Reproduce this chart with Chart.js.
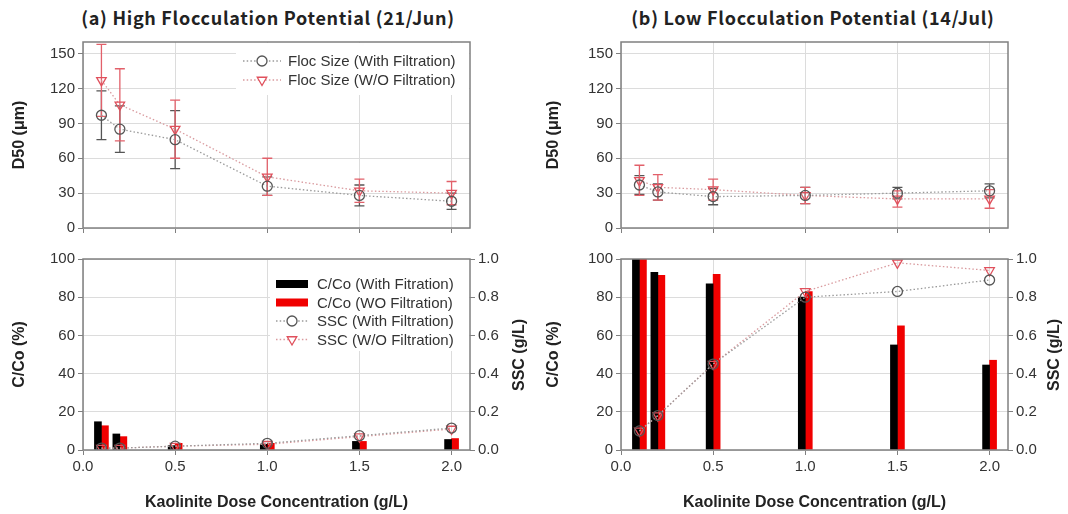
<!DOCTYPE html>
<html>
<head>
<meta charset="utf-8">
<script src="https://cdn.jsdelivr.net/npm/chart.js@4.4.1/dist/chart.umd.min.js"></script>
<style>
  body { margin: 0; background: #fff; width: 1068px; height: 514px; position: relative; overflow: hidden; }
  .panel { position: absolute; }
  .ttl { position: absolute; top: 4px; font: bold 18px "Noto Sans CJK KR", "Noto Sans", sans-serif; letter-spacing: 0.7px; color: #222; text-align: center; white-space: nowrap; }
  .rtitle { position: absolute; width: 120px; height: 20px; line-height: 20px; text-align: center; font: bold 16px "Liberation Sans", Arial, sans-serif; color: #222; transform: rotate(-90deg); white-space: nowrap; }
</style>
</head>
<body>
<div class="ttl" style="left:68px;width:400px">(a) High Flocculation Potential (21/Jun)</div>
<div class="ttl" style="left:613px;width:400px">(b) Low Flocculation Potential (14/Jul)</div>
<div class="panel" style="left:0;top:0"><canvas id="aTop" width="534" height="240"></canvas></div>
<div class="panel" style="left:0;top:240px"><canvas id="aBot" width="534" height="274"></canvas></div>
<div class="panel" style="left:534px;top:0"><canvas id="bTop" width="534" height="240"></canvas></div>
<div class="panel" style="left:534px;top:240px"><canvas id="bBot" width="534" height="274"></canvas></div>
<div class="rtitle" style="left:460px;top:345px">SSC (g/L)</div>
<div class="rtitle" style="left:995px;top:345px">SSC (g/L)</div>
<script>
// --- data ---
const dose = [0.1, 0.2, 0.5, 1.0, 1.5, 2.0];
const xTicks = [0, 0.5, 1.0, 1.5, 2.0];
const d50Ticks = [0, 30, 60, 90, 120, 150];
const ccTicks = [0, 20, 40, 60, 80, 100];
const sscTicks = [0, 0.2, 0.4, 0.6, 0.8, 1.0];

// (a) 21/Jun
const aD50With = [97, 85, 76, 36, 28, 23];
const aD50WithErr = [21, 20, 25, 8, 9, 7];
const aD50Wo = [127, 106, 85, 44, 32, 30];
const aD50WoErr = [31, 31, 25, 16, 10, 10];
const aCcWith = [14.8, 8.4, 2.3, 3, 4.5, 5.5];
const aCcWo = [12.7, 7, 3.5, 3.5, 4.5, 6];
const aSscWith = [0.01, 0.01, 0.02, 0.035, 0.075, 0.115];
const aSscWo = [0.01, 0.01, 0.02, 0.03, 0.07, 0.11];

// (b) 14/Jul
const bD50With = [37, 31, 27, 28, 30, 32];
const bD50WithErr = [8, 7, 7, 7, 5, 6];
const bD50Wo = [41, 35, 33, 28, 25, 25];
const bD50WoErr = [13, 11, 9, 7, 7, 8];
const bCcWith = [100, 93, 87, 80, 55, 44.5];
const bCcWo = [100, 91.5, 92, 83, 65, 47];
const bSscWith = [0.1, 0.18, 0.45, 0.8, 0.83, 0.89];
const bSscWo = [0.1, 0.18, 0.45, 0.83, 0.98, 0.94];

// --- styles ---
const FONT = '"Liberation Sans", Arial, sans-serif';
const withStyle = { color: '#555', line: '#9a9a9a', err: '#555', pointStyle: 'circle', rotation: 0, radius: 5 };
const woStyle = { color: '#e0505c', line: '#d99a9e', err: '#e2606a', pointStyle: 'triangle', rotation: 180, radius: 5.5 };

const pts = (vals) => dose.map((x, i) => ({ x: x, y: vals[i] }));

function lineSet(label, vals, st, errs, yAxisID) {
  return {
    type: 'line', label: label, data: pts(vals), yAxisID: yAxisID, order: 1,
    borderColor: st.line, borderWidth: 1.3, borderDash: [1.5, 2.2], fill: false, tension: 0,
    pointStyle: st.pointStyle, rotation: st.rotation, pointRadius: st.radius,
    pointBorderColor: st.color, pointBackgroundColor: 'rgba(255,255,255,0)', pointBorderWidth: 1.3,
    errors: errs, errorColor: st.err
  };
}
function barSet(label, vals, color) {
  return { type: 'bar', label: label, data: pts(vals), yAxisID: 'y', order: 2,
           backgroundColor: color, barThickness: 7 };
}

// error bars through the scales
const errorBars = {
  id: 'errorBars',
  beforeDatasetsDraw(chart) {
    const ctx = chart.ctx;
    chart.data.datasets.forEach((ds, di) => {
      if (!ds.errors) return;
      const meta = chart.getDatasetMeta(di);
      const ys = chart.scales[meta.yAxisID];
      ctx.save();
      ctx.strokeStyle = ds.errorColor;
      ctx.lineWidth = 1.3;
      meta.data.forEach((pt, i) => {
        const v = ds.data[i].y, e = ds.errors[i];
        const top = ys.getPixelForValue(v + e), bot = ys.getPixelForValue(v - e);
        ctx.beginPath();
        ctx.moveTo(pt.x, top); ctx.lineTo(pt.x, bot);
        ctx.moveTo(pt.x - 5, top); ctx.lineTo(pt.x + 5, top);
        ctx.moveTo(pt.x - 5, bot); ctx.lineTo(pt.x + 5, bot);
        ctx.stroke();
      });
      ctx.restore();
    });
  }
};

// legend drawn inside the plot
const inLegend = {
  id: 'inLegend',
  afterDatasetsDraw(chart, args, o) {
    if (!o || !o.rows) return;
    const ctx = chart.ctx;
    ctx.save();
    ctx.fillStyle = '#fff';
    ctx.fillRect(o.box[0], o.box[1], o.box[2], o.box[3]);
    chart.data.datasets.forEach((ds, i) => {
      const y = o.rows[i];
      if (ds.type === 'bar') {
        ctx.fillStyle = ds.backgroundColor;
        ctx.fillRect(o.lineX[0], y - 4, o.lineX[1] - o.lineX[0], 8);
      } else {
        ctx.strokeStyle = ds.borderColor;
        ctx.lineWidth = 1.3;
        ctx.setLineDash(ds.borderDash);
        ctx.beginPath(); ctx.moveTo(o.lineX[0], y); ctx.lineTo(o.lineX[1], y); ctx.stroke();
        ctx.setLineDash([]);
        ctx.fillStyle = '#fff';
        ctx.strokeStyle = ds.pointBorderColor;
        ctx.lineWidth = 1.3;
        Chart.helpers.drawPoint(ctx, { pointStyle: ds.pointStyle, rotation: ds.rotation, radius: ds.pointRadius, borderWidth: 1.3 }, o.markX, y);
      }
      ctx.fillStyle = '#333';
      ctx.font = '15px ' + FONT;
      ctx.textBaseline = 'middle';
      ctx.fillText(ds.label, o.textX, y + 1);
    });
    ctx.restore();
  }
};

const frame = {
  id: 'frame',
  afterDraw(chart) {
    const { ctx, chartArea: a } = chart;
    ctx.save();
    ctx.strokeStyle = '#808080';
    ctx.lineWidth = 1.5;
    ctx.strokeRect(a.left, a.top, a.right - a.left, a.bottom - a.top);
    ctx.restore();
  }
};

const gridOpts = { color: '#dcdcdc', tickColor: '#808080', tickLength: 5, lineWidth: 1, offset: false };
const tickFont = { family: FONT, size: 15 };
const titleFont = { family: FONT, size: 16, weight: 'bold' };

function xScale(bottom) {
  return {
    type: 'linear', min: 0, max: 2.1, offset: false,
    afterBuildTicks: s => { s.ticks = xTicks.map(v => ({ value: v })); },
    afterFit: s => { s.height = bottom ? 64 : 7; },
    grid: gridOpts, border: { display: false },
    ticks: { display: bottom, color: '#333', font: tickFont, padding: 3, maxRotation: 0, callback: v => Number(v).toFixed(1) },
    title: { display: bottom, text: 'Kaolinite Dose Concentration (g/L)', color: '#222', font: titleFont, padding: { top: 2, bottom: 2 } }
  };
}
function yLeft(max, ticks, title, width) {
  return {
    position: 'left', min: 0, max: max,
    afterBuildTicks: s => { s.ticks = ticks.map(v => ({ value: v })); },
    afterFit: s => { s.width = width; },
    grid: gridOpts, border: { display: false },
    ticks: { color: '#333', font: tickFont, padding: 3 },
    title: { display: true, text: title, color: '#222', font: titleFont, padding: { top: 10, bottom: 0 } }
  };
}
function yRight(width) {
  return {
    position: 'right', min: 0, max: 1,
    afterBuildTicks: s => { s.ticks = sscTicks.map(v => ({ value: v })); },
    afterFit: s => { s.width = width; },
    grid: { drawOnChartArea: false, tickColor: '#808080', tickLength: 5 }, border: { display: false },
    ticks: { color: '#333', font: tickFont, padding: 3, callback: v => Number(v).toFixed(1) }
  };
}

function baseOpts(padding, scales, legend) {
  return {
    responsive: false, animation: false, devicePixelRatio: 1,
    layout: { padding: padding },
    scales: scales,
    plugins: { legend: { display: false }, tooltip: { enabled: false }, inLegend: legend || {} }
  };
}

const plugins = [errorBars, inLegend, frame];

// (a) top
new Chart(document.getElementById('aTop'), {
  type: 'line',
  data: { datasets: [
    lineSet('Floc Size (With Filtration)', aD50With, withStyle, aD50WithErr, 'y'),
    lineSet('Floc Size (W/O Filtration)', aD50Wo, woStyle, aD50WoErr, 'y')
  ] },
  options: baseOpts({ top: 42, right: 64, left: 0, bottom: 0 },
    { x: xScale(false), y: yLeft(160, d50Ticks, 'D50 (\u03bcm)', 83) },
    { box: [236, 43, 233, 52], rows: [61, 80], lineX: [243, 281], markX: 262, textX: 288 }),
  plugins: plugins
});

// (a) bottom
new Chart(document.getElementById('aBot'), {
  type: 'bar',
  data: { datasets: [
    barSet('C/Co (With Fitration)', aCcWith, '#000'),
    barSet('C/Co (WO Filtration)', aCcWo, '#f00000'),
    lineSet('SSC (With Filtration)', aSscWith, withStyle, null, 'y2'),
    lineSet('SSC (W/O Filtration)', aSscWo, woStyle, null, 'y2')
  ] },
  options: baseOpts({ top: 19, right: 0, left: 0, bottom: 0 },
    { x: xScale(true), y: yLeft(100, ccTicks, 'C/Co (%)', 83), y2: yRight(64) },
    { box: [270, 19, 199, 92], rows: [44, 62.5, 81, 99.5], lineX: [276, 308], markX: 292, textX: 317 }),
  plugins: plugins
});

// (b) top
new Chart(document.getElementById('bTop'), {
  type: 'line',
  data: { datasets: [
    lineSet('Floc Size (With Filtration)', bD50With, withStyle, bD50WithErr, 'y'),
    lineSet('Floc Size (W/O Filtration)', bD50Wo, woStyle, bD50WoErr, 'y')
  ] },
  options: baseOpts({ top: 42, right: 60, left: 0, bottom: 0 },
    { x: xScale(false), y: yLeft(160, d50Ticks, 'D50 (\u03bcm)', 87) }),
  plugins: plugins
});

// (b) bottom
new Chart(document.getElementById('bBot'), {
  type: 'bar',
  data: { datasets: [
    barSet('C/Co (With Fitration)', bCcWith, '#000'),
    barSet('C/Co (WO Filtration)', bCcWo, '#f00000'),
    lineSet('SSC (With Filtration)', bSscWith, withStyle, null, 'y2'),
    lineSet('SSC (W/O Filtration)', bSscWo, woStyle, null, 'y2')
  ] },
  options: baseOpts({ top: 19, right: 0, left: 0, bottom: 0 },
    { x: xScale(true), y: yLeft(100, ccTicks, 'C/Co (%)', 87), y2: yRight(60) }),
  plugins: plugins
});
</script>
</body>
</html>
